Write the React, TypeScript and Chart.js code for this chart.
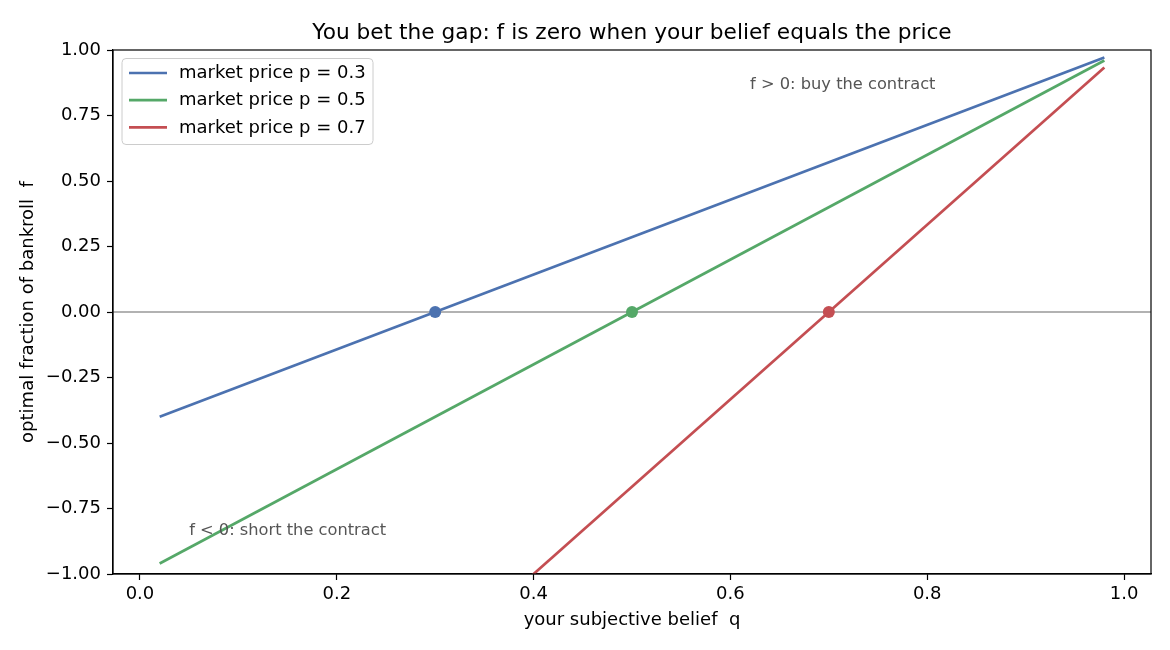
import React, { useEffect, useRef } from "react";
import { Chart, registerables } from "chart.js";

Chart.register(...registerables);

const seriesLabels = ["market price p = 0.3", "market price p = 0.5", "market price p = 0.7"];
const seriesColors = ["#4c72b0", "#55a868", "#c44e52"];
const beliefQ = [0.02, 0.98];
const fracP03 = [-0.4, 0.9714];
const fracP05 = [-0.96, 0.96];
const fracP07 = [-2.2667, 0.9333];
const pricePoints = [0.3, 0.5, 0.7];
const xTicks = [0, 0.2, 0.4, 0.6, 0.8, 1.0];
const xTickLabels = ["0.0", "0.2", "0.4", "0.6", "0.8", "1.0"];
const yTicks = [-1, -0.75, -0.5, -0.25, 0, 0.25, 0.5, 0.75, 1];
const yTickLabels = ["\u22121.00", "\u22120.75", "\u22120.50", "\u22120.25", "0.00", "0.25", "0.50", "0.75", "1.00"];
const titleText = "You bet the gap: f is zero when your belief equals the price";
const xLabel = "your subjective belief  q";
const yLabel = "optimal fraction of bankroll  f";
const annotations = [
  { x: 0.62, y: 0.85, text: "f > 0: buy the contract" },
  { x: 0.05, y: -0.85, text: "f < 0: short the contract" },
];
const xMin = -0.0274;
const xMax = 1.0274;

const FONT = "'DejaVu Sans', sans-serif";

export default function App() {
  const ref = useRef<HTMLCanvasElement | null>(null);
  useEffect(() => {
    document.body.style.margin = "0";
    const canvas = ref.current!;
    const seriesData = [fracP03, fracP05, fracP07];
    const decor = {
      id: "decor",
      beforeDatasetsDraw(chart: any) {
        const { ctx, chartArea, scales } = chart;
        const y0 = scales.y.getPixelForValue(0);
        ctx.save();
        ctx.strokeStyle = "#999999";
        ctx.lineWidth = 1.3;
        ctx.beginPath();
        ctx.moveTo(chartArea.left, y0);
        ctx.lineTo(chartArea.right, y0);
        ctx.stroke();
        ctx.restore();
      },
      afterDraw(chart: any) {
        const { ctx, chartArea, scales } = chart;
        const { left, right, top, bottom } = chartArea;
        ctx.save();
        // frame
        ctx.strokeStyle = "#000";
        ctx.lineWidth = 1.2;
        ctx.strokeRect(left, top, right - left, bottom - top);
        // title
        ctx.fillStyle = "#000";
        ctx.font = `21.7px ${FONT}`;
        ctx.textAlign = "center";
        ctx.textBaseline = "alphabetic";
        ctx.fillText(titleText, (left + right) / 2, 38.5);
        // axis labels
        ctx.font = `18px ${FONT}`;
        ctx.textBaseline = "middle";
        ctx.fillText(xLabel, (left + right) / 2, 620);
        ctx.save();
        ctx.translate(28, (top + bottom) / 2);
        ctx.rotate(-Math.PI / 2);
        ctx.fillText(yLabel, 0, 0);
        ctx.restore();
        // annotations
        ctx.font = `16.25px ${FONT}`;
        ctx.fillStyle = "#555555";
        ctx.textAlign = "left";
        ctx.textBaseline = "alphabetic";
        for (const a of annotations) {
          ctx.fillText(a.text, scales.x.getPixelForValue(a.x), scales.y.getPixelForValue(a.y));
        }
        // legend
        const lx = 122, ly = 58.5, lw = 251, lh = 86, r = 4;
        ctx.beginPath();
        ctx.moveTo(lx + r, ly);
        ctx.lineTo(lx + lw - r, ly);
        ctx.quadraticCurveTo(lx + lw, ly, lx + lw, ly + r);
        ctx.lineTo(lx + lw, ly + lh - r);
        ctx.quadraticCurveTo(lx + lw, ly + lh, lx + lw - r, ly + lh);
        ctx.lineTo(lx + r, ly + lh);
        ctx.quadraticCurveTo(lx, ly + lh, lx, ly + lh - r);
        ctx.lineTo(lx, ly + r);
        ctx.quadraticCurveTo(lx, ly, lx + r, ly);
        ctx.closePath();
        ctx.fillStyle = "rgba(255,255,255,0.8)";
        ctx.fill();
        ctx.strokeStyle = "#cccccc";
        ctx.lineWidth = 1;
        ctx.stroke();
        ctx.font = `18px ${FONT}`;
        ctx.textBaseline = "middle";
        ctx.textAlign = "left";
        seriesLabels.forEach((lab, i) => {
          const yy = 73 + i * 27.2;
          ctx.strokeStyle = seriesColors[i];
          ctx.lineWidth = 2.7;
          ctx.beginPath();
          ctx.moveTo(129, yy);
          ctx.lineTo(167, yy);
          ctx.stroke();
          ctx.fillStyle = "#000";
          ctx.fillText(lab, 179, yy + 0.5);
        });
        ctx.restore();
      },
    };

    const datasets: any[] = seriesLabels.map((lab, i) => ({
      type: "line",
      label: lab,
      data: beliefQ.map((q, j) => ({ x: q, y: seriesData[i][j] })),
      borderColor: seriesColors[i],
      backgroundColor: seriesColors[i],
      borderWidth: 2.7,
      pointRadius: 0,
      fill: false,
      tension: 0,
    }));
    pricePoints.forEach((p, i) => {
      datasets.push({
        type: "scatter",
        label: "marker " + p,
        data: [{ x: p, y: 0 }],
        backgroundColor: seriesColors[i],
        borderColor: seriesColors[i],
        pointRadius: 6,
        pointBorderWidth: 0,
      });
    });

    const chart = new Chart(canvas, {
      type: "line",
      data: { datasets },
      plugins: [decor],
      options: {
        animation: false,
        responsive: false,
        devicePixelRatio: 1,
        layout: { padding: { left: 0, top: 50, right: 19, bottom: 0 } },
        plugins: { legend: { display: false }, title: { display: false }, tooltip: { enabled: false } },
        scales: {
          x: {
            type: "linear",
            min: xMin,
            max: xMax,
            afterFit: (s: any) => { s.height = 76; },
            afterBuildTicks: (s: any) => { s.ticks = xTicks.map((v) => ({ value: v })); },
            grid: { drawOnChartArea: false, drawTicks: true, tickLength: 6, tickColor: "#000", tickWidth: 1.2 },
            border: { display: true, color: "#000", width: 1.2 },
            ticks: {
              color: "#000",
              font: { family: FONT, size: 18 },
              padding: 4,
              maxRotation: 0,
              autoSkip: false,
              callback: (v: any, i: number) => xTickLabels[i],
            },
          },
          y: {
            type: "linear",
            min: -1,
            max: 1,
            afterFit: (s: any) => { s.width = 113; },
            afterBuildTicks: (s: any) => { s.ticks = yTicks.map((v) => ({ value: v })); },
            grid: { drawOnChartArea: false, drawTicks: true, tickLength: 6, tickColor: "#000", tickWidth: 1.2 },
            border: { display: true, color: "#000", width: 1.2 },
            ticks: {
              color: "#000",
              font: { family: FONT, size: 18 },
              padding: 6,
              autoSkip: false,
              callback: (v: any, i: number) => yTickLabels[i],
            },
          },
        },
      } as any,
    });
    return () => chart.destroy();
  }, []);
  return (
    <div style={{ width: 1170, height: 650 }}>
      <canvas ref={ref} width={1170} height={650} style={{ width: 1170, height: 650, display: "block" }} />
    </div>
  );
}
